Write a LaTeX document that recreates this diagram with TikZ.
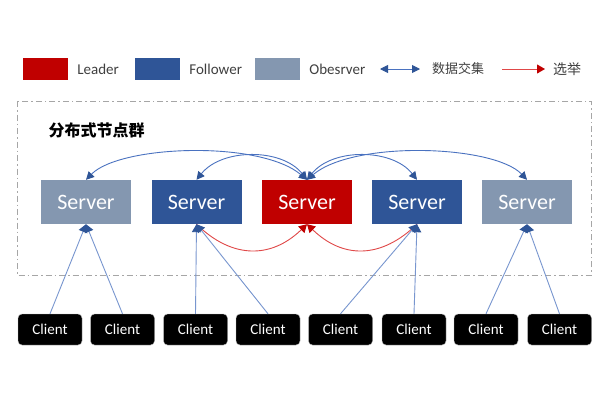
\documentclass[tikz,border=0pt]{standalone}
\usepackage{fontspec}
\setmainfont{Carlito}
\newfontfamily\cjk{Noto Sans CJK SC}
\usetikzlibrary{arrows.meta, positioning}
\definecolor{leaderred}{HTML}{C00000}
\definecolor{followerblue}{HTML}{2F5597}
\definecolor{observergray}{HTML}{8497B0}
\definecolor{linkblue}{HTML}{4A72C0}
\definecolor{clientblue}{HTML}{7896CF}
\definecolor{votered}{HTML}{E04848}
\definecolor{legendgray}{HTML}{404040}

\begin{document}
\begin{tikzpicture}[x=1pt, y=-1pt,
  server/.style={rectangle, minimum width=90pt, minimum height=44pt, inner sep=0pt, text=white, font=\fontsize{22}{24}\selectfont},
  client/.style={rectangle, rounded corners=4pt, minimum width=64pt, minimum height=31pt, inner sep=0pt, fill=black, draw=gray!50, text=white, font=\fontsize{15}{17}\selectfont},
  legbox/.style={rectangle, minimum width=45pt, minimum height=22pt, inner sep=0pt},
  legtext/.style={anchor=west, inner sep=2pt, text=legendgray, font=\fontsize{15}{17}\selectfont},
  sync/.style={linkblue, line width=0.9pt, {Triangle[length=8pt,width=8pt,color=followerblue]}-{Triangle[length=8pt,width=8pt,color=followerblue]}},
  uplink/.style={clientblue, line width=0.9pt, -{Triangle[length=8pt,width=9pt,color=followerblue]}},
  vote/.style={votered, line width=0.9pt, -{Triangle[length=8pt,width=9pt,color=leaderred]}}]
\useasboundingbox[fill=white] (0,0) rectangle (600,400);

% legend
\node[legbox, fill=leaderred] (legleader) at (45.5,69) {};
\node[legtext, right=7pt of legleader] (legleadertext) {Leader};
\node[legbox, fill=followerblue] (legfollower) at (157.5,69) {};
\node[legtext, right=7pt of legfollower] (legfollowertext) {Follower};
\node[legbox, fill=observergray] (legobserver) at (277.5,69) {};
\node[legtext, right=7pt of legobserver] (legobservertext) {Obesrver};
\coordinate (syncA) at (380,69);
\coordinate (syncB) at (420,69);
\draw[sync] (syncA) -- (syncB);
\node[legtext, font=\cjk\fontsize{13}{15}\selectfont, right=10pt of syncB] (legsynctext) {数据交集};
\coordinate (voteA) at (502,69);
\coordinate (voteB) at (545,69);
\draw[vote] (voteA) -- (voteB);
\node[legtext, font=\cjk\fontsize{14}{16}\selectfont, right=6pt of voteB] (legvotetext) {选举};

% cluster frame
\draw[gray!70, line width=1pt, dash pattern=on 6pt off 3pt on 1.5pt off 3pt] (17,101) rectangle (591,275);
\node[anchor=west, font=\cjk\bfseries\fontsize{16}{18}\selectfont] (clustertitle) at (45,130) {分布式节点群};

% servers
\node[server, fill=observergray] (s1) at (86,202) {Server};
\node[server, fill=followerblue] (s2) at (196.5,202) {Server};
\node[server, fill=leaderred] (s3) at (307,202) {Server};
\node[server, fill=followerblue] (s4) at (417,202) {Server};
\node[server, fill=observergray] (s5) at (527,202) {Server};

% clients
\node[client] (c1) at (50,329.5) {Client};
\node[client] (c2) at (122.5,329.5) {Client};
\node[client] (c3) at (195.5,329.5) {Client};
\node[client] (c4) at (268,329.5) {Client};
\node[client] (c5) at (340.5,329.5) {Client};
\node[client] (c6) at (414,329.5) {Client};
\node[client] (c7) at (486,329.5) {Client};
\node[client] (c8) at (559.5,329.5) {Client};

% data exchange
\draw[sync] (s3.north) .. controls (260,140) and (120,145) .. (s1.north);
\draw[sync] (s3.north) .. controls (282,148) and (222,148) .. (s2.north);
\draw[sync] (s3.north) .. controls (332,148) and (392,148) .. (s4.north);
\draw[sync] (s3.north) .. controls (354,140) and (494,145) .. (s5.north);

% election
\draw[vote] (s2.south) .. controls (232,259) and (271,259) .. (s3.south);
\draw[vote] (s4.south) .. controls (381,259) and (343,259) .. (s3.south);

% clients to servers
\draw[uplink] (c1.north) -- (s1.south);
\draw[uplink] (c2.north) -- (s1.south);
\draw[uplink] (c3.north) -- (s2.south);
\draw[uplink] (c4.north) -- (s2.south);
\draw[uplink] (c5.north) -- (s4.south);
\draw[uplink] (c6.north) -- (s4.south);
\draw[uplink] (c7.north) -- (s5.south);
\draw[uplink] (c8.north) -- (s5.south);
\end{tikzpicture}
\end{document}
